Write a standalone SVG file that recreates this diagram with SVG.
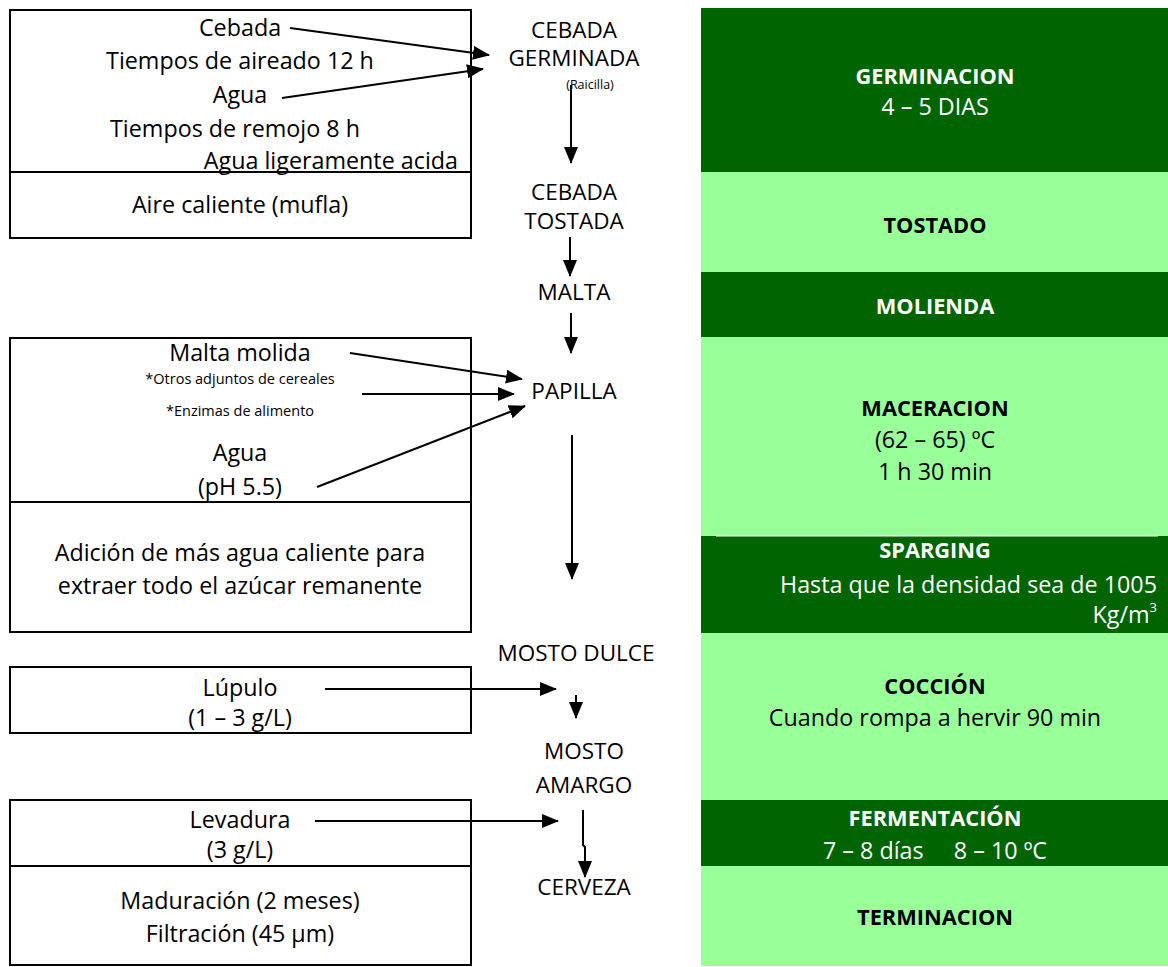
<svg xmlns="http://www.w3.org/2000/svg" width="1168" height="967" viewBox="0 0 1168 967">
<defs>
<marker id="ah" markerUnits="userSpaceOnUse" markerWidth="17" markerHeight="14" refX="16" refY="7" orient="auto">
<path d="M0,0 L17,7 L0,14 Z" fill="#000"/>
</marker>
<style>
.t{font-family:"Open Sans","Liberation Sans",sans-serif;font-size:23.3px;fill:#000;text-anchor:middle}
.m{font-size:22.5px}
.s{font-size:14.5px}
.xs{font-size:12.5px}
.b{font-weight:bold;font-size:21.8px}
.w{fill:#fff}
.dk{fill:#006400}
.lt{fill:#99ff99}
.box{fill:#fff;stroke:#000;stroke-width:2}
.c{stroke:#000;stroke-width:2;fill:none;marker-end:url(#ah)}
</style>
</defs>
<rect width="1168" height="967" fill="#fff"/>

<g id="stages">
<g id="germinacion"><rect class="dk" x="701" y="8" width="467" height="164"/>
<text class="t b w" x="935" y="84">GERMINACION</text>
<text class="t w" x="935" y="115">4 – 5 DIAS</text></g>
<g id="tostado"><rect class="lt" x="701" y="172" width="467" height="100"/>
<text class="t b" x="935" y="233">TOSTADO</text></g>
<g id="molienda"><rect class="dk" x="701" y="272" width="467" height="65"/>
<text class="t b w" x="935" y="314">MOLIENDA</text></g>
<g id="maceracion"><rect class="lt" x="701" y="337" width="467" height="199"/>
<text class="t b" x="935" y="416">MACERACION</text>
<text class="t" x="935" y="448">(62 – 65) ºC</text>
<text class="t" x="935" y="480">1 h 30 min</text></g>
<g id="sparging"><rect class="dk" x="701" y="536" width="467" height="97"/>
<line x1="716" y1="536" x2="1158" y2="536" stroke="#fff" stroke-width="1"/>
<text class="t b w" x="935" y="558">SPARGING</text>
<text class="t w" x="1157" y="593" style="text-anchor:end">Hasta que la densidad sea de 1005</text>
<text class="t w" x="1157" y="623" style="text-anchor:end">Kg/m<tspan font-size="13" dy="-11">3</tspan></text></g>
<g id="coccion"><rect class="lt" x="701" y="633" width="467" height="167"/>
<text class="t b" x="935" y="694">COCCIÓN</text>
<text class="t" x="935" y="726">Cuando rompa a hervir 90 min</text></g>
<g id="fermentacion"><rect class="dk" x="701" y="800" width="467" height="66"/>
<text class="t b w" x="935" y="826">FERMENTACIÓN</text>
<text class="t w" x="935" y="859" xml:space="preserve">7 – 8 días     8 – 10 ºC</text></g>
<g id="terminacion"><rect class="lt" x="701" y="866" width="467" height="100"/>
<text class="t b" x="935" y="925">TERMINACION</text></g>
</g>

<g id="inputs-germinacion">
<rect class="box" x="10" y="10" width="461" height="228"/>
<line x1="10" y1="172" x2="471" y2="172" stroke="#000" stroke-width="2"/>
<text class="t" x="240" y="36">Cebada</text>
<text class="t" x="240" y="69">Tiempos de aireado 12 h</text>
<text class="t" x="240" y="103">Agua</text>
<text class="t" x="235" y="137">Tiempos de remojo 8 h</text>
<text class="t" x="458" y="169" style="text-anchor:end">Agua ligeramente acida</text>
<text class="t" x="240" y="213">Aire caliente (mufla)</text>
</g>

<g id="inputs-maceracion">
<rect class="box" x="10" y="338" width="461" height="294"/>
<line x1="10" y1="502" x2="471" y2="502" stroke="#000" stroke-width="2"/>
<text class="t" x="240" y="361">Malta molida</text>
<text class="t s" x="240" y="384">*Otros adjuntos de cereales</text>
<text class="t s" x="240" y="416">*Enzimas de alimento</text>
<text class="t" x="240" y="461">Agua</text>
<text class="t" x="240" y="495">(pH 5.5)</text>
<text class="t" x="240" y="561">Adición de más agua caliente para</text>
<text class="t" x="240" y="594">extraer todo el azúcar remanente</text>
</g>

<g id="inputs-coccion">
<rect class="box" x="10" y="667" width="461" height="66"/>
<text class="t" x="240" y="696">Lúpulo</text>
<text class="t" x="240" y="726">(1 – 3 g/L)</text>
</g>

<g id="inputs-fermentacion">
<rect class="box" x="10" y="800" width="461" height="165"/>
<line x1="10" y1="866" x2="471" y2="866" stroke="#000" stroke-width="2"/>
<text class="t" x="240" y="828">Levadura</text>
<text class="t" x="240" y="858">(3 g/L)</text>
<text class="t" x="240" y="909">Maduración (2 meses)</text>
<text class="t" x="240" y="942">Filtración (45 µm)</text>
</g>

<g id="products">
<g id="cebada-germinada"><text class="t m" x="574" y="38">CEBADA</text>
<text class="t m" x="574" y="66">GERMINADA</text>
<text class="t xs" x="590" y="89">(Raicilla)</text></g>
<g id="cebada-tostada"><text class="t m" x="574" y="200">CEBADA</text>
<text class="t m" x="574" y="229">TOSTADA</text></g>
<g id="malta"><text class="t m" x="574" y="300">MALTA</text></g>
<g id="papilla"><text class="t m" x="574" y="399">PAPILLA</text></g>
<g id="mosto-dulce"><text class="t m" x="576" y="661">MOSTO DULCE</text></g>
<g id="mosto-amargo"><text class="t m" x="584" y="759">MOSTO</text>
<text class="t m" x="584" y="793">AMARGO</text></g>
<g id="cerveza"><text class="t m" x="584" y="895">CERVEZA</text></g>
</g>

<g id="connectors">
<line class="c" x1="290" y1="28" x2="489" y2="55"/>
<line class="c" x1="282" y1="98" x2="483" y2="69"/>
<line class="c" x1="571" y1="85" x2="571" y2="163"/>
<line class="c" x1="570" y1="237" x2="570" y2="276"/>
<line class="c" x1="571" y1="313" x2="571" y2="353"/>
<line class="c" x1="350" y1="353" x2="522" y2="379"/>
<line class="c" x1="362" y1="394" x2="514" y2="394"/>
<line class="c" x1="317" y1="487" x2="525" y2="406"/>
<line class="c" x1="572" y1="435" x2="572" y2="579"/>
<line class="c" x1="325" y1="689" x2="556" y2="689"/>
<line class="c" x1="576" y1="695" x2="576" y2="718"/>
<line class="c" x1="315" y1="821" x2="558" y2="821"/>
<path class="c" d="M583,810 L583,845 L585,847 L585,877"/>
</g>
</svg>
